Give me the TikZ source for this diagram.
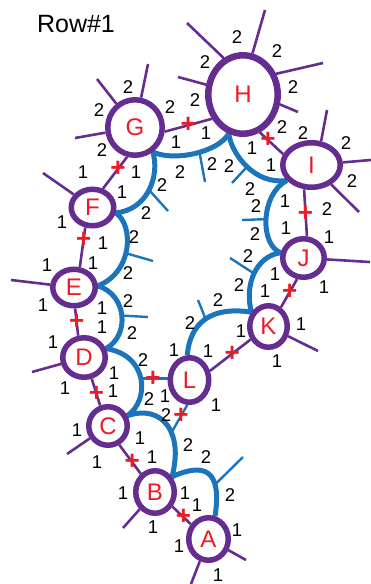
\documentclass[tikz,border=0pt]{standalone}
\usepackage{fontspec}
\setmainfont{Liberation Sans}
\usetikzlibrary{shapes.geometric}
\definecolor{vpurple}{RGB}{102,45,145}
\definecolor{vblue}{RGB}{28,117,188}
\definecolor{vred}{RGB}{237,28,36}
\pgfdeclarelayer{bg}
\pgfsetlayers{bg,main}
\tikzset{
  vnode/.style={ellipse, draw=vpurple, line width=5.5pt, fill=white, inner sep=0pt,
    text=vred, font=\fontsize{24}{24}\selectfont},
  pedge/.style={draw=vpurple, line width=2.6pt},
  pstub/.style={draw=vpurple, line width=2.6pt},
  barc/.style={draw=vblue, line width=5pt},
  bthin/.style={draw=vblue, line width=2.4pt},
  plus/.style={text=vred, font=\fontsize{26}{26}\selectfont\bfseries, inner sep=0pt},
  lab/.style={font=\fontsize{18.5}{18.5}\selectfont, inner sep=0pt},
}
\begin{document}
\begin{tikzpicture}[x=1pt,y=-1pt]
\useasboundingbox (0,0) rectangle (371,584);
\node[font=\fontsize{25}{25}\selectfont, inner sep=0pt] (title) at (76,24) {Row\#1};
% vertices
\node[vnode, line width=6.5pt, minimum width=69.4pt, minimum height=78.4pt] (H) at (243,94.5) {H};
\node[vnode, minimum width=54.5pt, minimum height=55.5pt] (G) at (135,127.5) {G};
\node[vnode, minimum width=57.5pt, minimum height=44.5pt] (I) at (311.5,165) {I};
\node[vnode, minimum width=42.5pt, minimum height=36.5pt] (F) at (92.5,207.5) {F};
\node[vnode, minimum width=42.5pt, minimum height=36.5pt] (E) at (74,287.5) {E};
\node[vnode, minimum width=42.5pt, minimum height=39.5pt] (D) at (84,357.5) {D};
\node[vnode, minimum width=38.5pt, minimum height=38.5pt] (C) at (108,426) {C};
\node[vnode, minimum width=38.5pt, minimum height=42.5pt] (B) at (155,492) {B};
\node[vnode, minimum width=39.5pt, minimum height=42.5pt] (A) at (208.5,539) {A};
\node[vnode, minimum width=38.5pt, minimum height=44.5pt] (L) at (189.5,380) {L};
\node[vnode, minimum width=37.5pt, minimum height=41.5pt] (K) at (268.5,326.5) {K};
\node[vnode, minimum width=41.5pt, minimum height=38.5pt] (J) at (303.5,258) {J};

\begin{pgfonlayer}{bg}
% blue chain
\draw[barc] (L.95) .. controls (190,322) and (212,306) .. (K.140) coordinate[pos=0.5] (sLK);
\draw[barc] (K.140) .. controls (244,285) and (256,256) .. (J.167) coordinate[pos=0.5] (sKJ);
\draw[barc] (J.167) .. controls (260,245) and (260,195) .. (I.-148) coordinate[pos=0.5] (sJI);
\draw[barc] (I.-148) .. controls (255,185) and (232,155) .. (H.-110) coordinate[pos=0.5] (sIH);
\draw[barc] (H.-110) .. controls (218,152) and (175,162) .. (G.-54) coordinate[pos=0.45] (sHG);
\draw[barc] (G.-54) .. controls (160,175) and (148,210) .. (F.-13) coordinate[pos=0.5] (sGF);
\draw[barc] (F.-13) .. controls (134,225) and (133,272) .. (E.4) coordinate[pos=0.55] (sFE);
\draw[barc] (E.4) .. controls (127,295) and (130,335) .. (D.22) coordinate[pos=0.5] (sED);
\draw[barc] (D.22) .. controls (148,355) and (150,400) .. (C.28) coordinate[pos=0.5] (dc);
\draw[barc] (C.28) .. controls (162,404) and (184,432) .. (B.42) coordinate[pos=0.6] (cb);
\draw[barc] (B.42) .. controls (205,462) and (222,470) .. (A.74) coordinate[pos=0.7] (sBA);
% blue stubs
\draw[bthin] (sLK) -- (198,300);
\draw[bthin] (sKJ) -- (230,258);
\draw[bthin] (sJI) -- (242,220);
\draw[bthin] (sIH) -- (232,183);
\draw[bthin] (sHG) -- (205,182);
\draw[bthin] (sGF) -- (168,211);
\draw[bthin] (sFE) -- (153,261);
\draw[bthin] (sED) -- (148,317);
\draw[bthin] (sBA) -- (243,457);
% blue links from L
\draw[bthin] (dc) -- node[plus,pos=0.45] (pLD) {+} (dc -| L.west);
\draw[bthin] (L.-95) -- node[plus,pos=0.4] (pLC) {+} (cb);
% purple edges
\draw[pedge] (G.-8) -- node[plus,pos=0.5] (pGH) {+} (H.-142);
\draw[pedge] (G.-105) -- node[plus,pos=0.38] (pGF) {+} (F.61);
\draw[pedge] (F.-110) -- node[plus,pos=0.3] (pFE) {+} (E.74);
\draw[pedge] (E.-87) -- node[plus,pos=0.5] (pED) {+} (D.105);
\draw[pedge] (D.-70) -- node[plus,pos=0.55] (pDC) {+} (C.111);
\draw[pedge] (C.-59) -- node[plus,pos=0.6] (pCB) {+} (B.128);
\draw[pedge] (B.-40) -- node[plus,pos=0.6] (pBA) {+} (A.140);
\draw[pedge] (H.-66) -- node[plus,pos=0.35] (pHI) {+} (I.159);
\draw[pedge] (I.-107) -- node[plus,pos=0.52] (pIJ) {+} (J.81);
\draw[pedge] (J.-107) -- node[plus,pos=0.45] (pJK) {+} (K.57);
\draw[pedge] (K.-144) -- node[plus,pos=0.45] (pKL) {+} (L.24);
% purple stubs
\draw[pstub] (G) -- (97,79);
\draw[pstub] (G) -- (148,64);
\draw[pstub] (G) -- (75,138);
\draw[pstub] (H.118) -- (187,23);
\draw[pstub] (H.77) -- (265,10);
\draw[pstub] (H.32) -- (323,63);
\draw[pstub] (H.-15) -- (298,112);
\draw[pstub] (H.165) -- (178,77);
\draw[pstub] (I.68) -- (327,110);
\draw[pstub] (I) -- (371,160);
\draw[pstub] (I) -- (359,212);
\draw[pstub] (J) -- (370,262);
\draw[pstub] (K) -- (318,351);
\draw[pstub] (F) -- (43,173);
\draw[pstub] (E) -- (11,280);
\draw[pstub] (D) -- (32,372);
\draw[pstub] (C) -- (67,454);
\draw[pstub] (B) -- (123,528);
\draw[pstub] (A) -- (191,584);
\draw[pstub] (A) -- (246,560);
\end{pgfonlayer}

% labels
\foreach \x/\y/\t [count=\i] in {
 128/87/2, 99/110/2, 102/150/2, 170/107/2, 176/142/1, 83/172/1, 136/172/1, 122/192/1,
 237/37/2, 277/51/2, 205/62/2, 293/87/2, 195/100/2, 206/133/1, 282/127/2, 252/148/1, 271/165/1,
 180/172/2, 212/164/2, 229/166/2, 162/185/2,
 303/133/2, 346/143/2, 352/181/2, 327/209/2, 285/201/1, 286/228/1,
 250/189/2, 256/206/2, 255/234/2, 248/256/2, 275/274/1, 239/285/2, 265/291/1, 218/300/2, 190/323/2,
 329/237/1, 324/287/1,
 241/331/1, 301/324/1, 277/361/1,
 174/350/1, 208/351/1, 216/405/1, 149/399/2, 165/396/1, 166/415/2, 143/360/2,
 62/222/1, 146/213/2, 134/237/2, 103/243/1, 47/265/1, 93/263/1, 128/273/2, 43/305/1, 128/301/2,
 102/308/1, 102/327/1, 132/333/2, 53/342/1, 114/373/1, 65/388/1, 113/391/1, 77/430/1, 140/438/1,
 97/462/1, 152/457/1, 188/445/2, 206/457/2, 123/493/1, 185/493/1, 197/505/1, 153/527/1, 230/495/2,
 237/530/1, 179/546/1, 218/575/1}
  \node[lab] (lab\i) at (\x,\y) {\t};
\end{tikzpicture}
\end{document}
